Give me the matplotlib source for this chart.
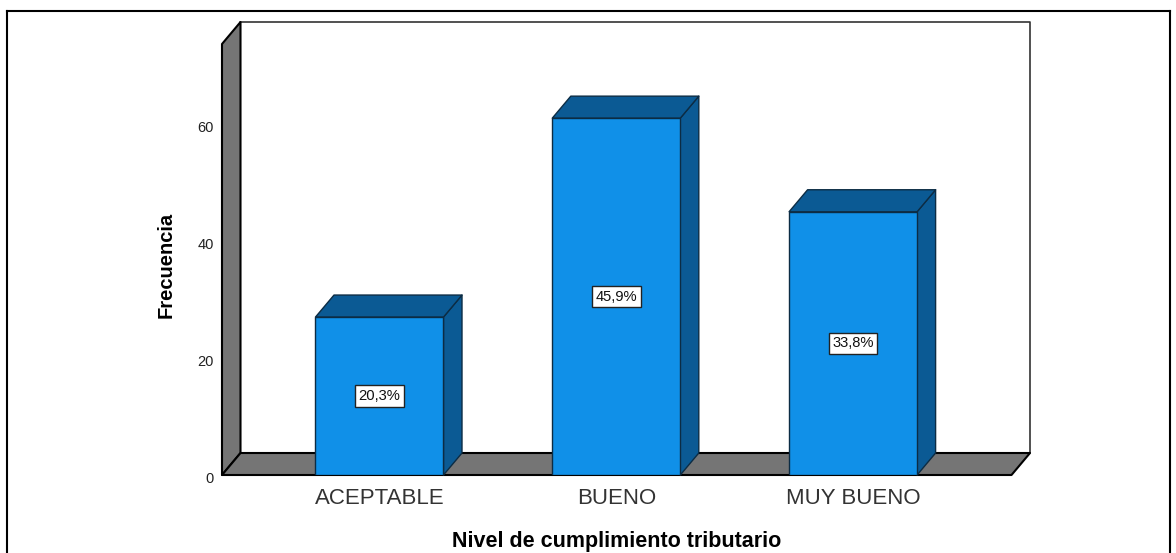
import matplotlib
matplotlib.use("Agg")
import matplotlib.pyplot as plt
from matplotlib.patches import Polygon, Rectangle
from matplotlib.transforms import ScaledTranslation

categories = ["ACEPTABLE", "BUENO", "MUY BUENO"]
counts = [27, 61, 45]
percent_labels = ["20,3%", "45,9%", "33,8%"]
y_ticks = [0, 20, 40, 60]

W, H = 1176, 553
BLUE = "#1090E8"
DARK_BLUE = "#0B5A94"
GREY = "#757575"
EDGE = "#0c2c44"

plt.rcParams["font.family"] = ["Liberation Sans", "DejaVu Sans"]

fig = plt.figure(figsize=(W / 100, H / 100), dpi=100, facecolor="white")

# axes spans front-left corner to back-right corner of the 3D box
left, right, top, bottom = 222, 1030, 22, 475
ax = fig.add_axes([left / W, 1 - bottom / H, (right - left) / W, (bottom - top) / H])
px_per_cat = 236.8
px_per_unit = 5.85
first_px = 379.5
ax.set_xlim((left - first_px) / px_per_cat, (right - first_px) / px_per_cat)
ax.set_ylim(0, (bottom - top) / px_per_unit)
ax.patch.set_alpha(0)
for s in ax.spines.values():
    s.set_visible(False)

dx = 18.5 / px_per_cat
dy = 22 / px_per_unit
bar_w = 128 / px_per_cat
x0, x1 = ax.get_xlim()
ymax = ax.get_ylim()[1]
wall_lw = 1.5


def poly(pts, color, edge="black", lw=wall_lw, z=1):
    ax.add_patch(Polygon(pts, closed=True, facecolor=color, edgecolor=edge,
                         linewidth=lw, zorder=z, clip_on=False, joinstyle="round"))


# back wall, left wall, floor
poly([(x0 + dx, dy), (x1, dy), (x1, ymax), (x0 + dx, ymax)], "white", edge="#333333", lw=1.2)
poly([(x0, 0), (x0 + dx, dy), (x0 + dx, ymax), (x0, ymax - dy)], GREY)
poly([(x0, 0), (x1 - dx, 0), (x1, dy), (x0 + dx, dy)], GREY)

for i, (v, lab) in enumerate(zip(counts, percent_labels)):
    a, b = i - bar_w / 2, i + bar_w / 2
    poly([(b, 0), (b + dx, dy), (b + dx, v + dy), (b, v)], DARK_BLUE, edge=EDGE, lw=1, z=3)
    poly([(a, v), (b, v), (b + dx, v + dy), (a + dx, v + dy)], DARK_BLUE, edge=EDGE, lw=1, z=3)
    ax.add_patch(Rectangle((a, 0), bar_w, v, facecolor=BLUE, edgecolor=EDGE,
                           linewidth=1, zorder=4))
    ax.text(i, v / 2, lab, ha="center", va="center", fontsize=10.6, color="#111111", zorder=5,
            bbox=dict(boxstyle="square,pad=0.24", facecolor="white", edgecolor="#222222", linewidth=1))

ax.set_xticks(range(len(categories)))
ax.set_xticklabels(categories, fontsize=16, color="#333333")
ax.set_yticks(y_ticks)
ax.set_yticklabels([str(t) for t in y_ticks], fontsize=10.5, color="#222222")
ax.tick_params(axis="both", length=0)
ax.tick_params(axis="x", pad=9)
ax.tick_params(axis="y", pad=6)
# SPSS draws the value labels a little below the gridline position
shift = ScaledTranslation(0, -2.5 / 100, fig.dpi_scale_trans)
for t in ax.get_yticklabels():
    t.set_transform(t.get_transform() + shift)

fig.text(617 / W, 1 - 541 / H, "Nivel de cumplimiento tributario", ha="center", va="center",
         fontsize=15.5, fontweight="bold", color="black")
fig.text(166 / W, 1 - 265 / H, "Frecuencia", rotation=90, ha="center", va="center",
         fontsize=14.5, fontweight="bold", color="black")

# outer chart frame
for xs, ys in [((7, 7), (11, 553)), ((7, 1170), (11, 11)), ((1170, 1170), (11, 553))]:
    fig.add_artist(plt.Line2D([x / W for x in xs], [1 - y / H for y in ys],
                              color="black", linewidth=1.5))

fig.savefig("out.png", dpi=100)
